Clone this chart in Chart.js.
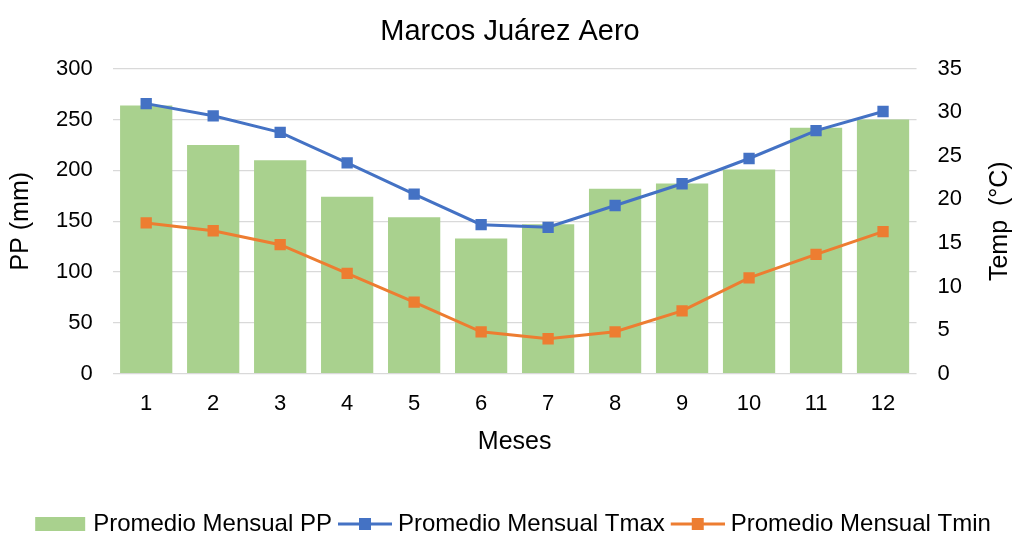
<!DOCTYPE html>
<html>
<head>
<meta charset="utf-8">
<script src="https://cdn.jsdelivr.net/npm/chart.js@4.4.1/dist/chart.umd.min.js"></script>
<style>
  html, body { margin: 0; padding: 0; background: #fff; }
  #wrap { width: 1014px; height: 536px; }
</style>
</head>
<body>
<div id="wrap"><canvas id="grafico"></canvas></div>
<script>
// datos
const meses = ['1', '2', '3', '4', '5', '6', '7', '8', '9', '10', '11', '12'];
const pp = [264, 225, 210, 174, 154, 133, 147, 182, 187, 201, 242, 250];
const tmax = [31.0, 29.6, 27.7, 24.2, 20.6, 17.1, 16.8, 19.3, 21.8, 24.7, 27.9, 30.1];
const tmin = [17.3, 16.4, 14.8, 11.5, 8.2, 4.8, 4.0, 4.8, 7.2, 11.0, 13.7, 16.3];

const verde = '#A9D18E';
const azul = '#4472C4';
const naranja = '#ED7D31';
const fuente = "'Liberation Sans', Arial, sans-serif";

// iconos de la leyenda: el lienzo es mas ancho que la caja para correr el icono a la derecha
function iconoLinea(color) {
    const c = document.createElement('canvas');
    c.width = 64; c.height = 14;
    const g = c.getContext('2d');
    g.strokeStyle = color;
    g.lineWidth = 3;
    g.beginPath(); g.moveTo(10, 7); g.lineTo(64, 7); g.stroke();
    g.fillStyle = color;
    g.fillRect(31, 1, 12, 12);
    return c;
}
function iconoBarra(color) {
    const c = document.createElement('canvas');
    c.width = 64; c.height = 14;
    const g = c.getContext('2d');
    g.fillStyle = color;
    g.fillRect(12, 0, 50, 14);
    return c;
}
const iconos = [iconoBarra(verde), iconoLinea(azul), iconoLinea(naranja)];

// titulo del eje derecho, leido de abajo hacia arriba
const tituloDerecho = {
    id: 'tituloDerecho',
    afterDraw(chart) {
        const s = chart.scales.y1;
        const ctx = chart.ctx;
        ctx.save();
        ctx.translate(s.right - 14, (chart.chartArea.top + chart.chartArea.bottom) / 2);
        ctx.rotate(-Math.PI / 2);
        ctx.font = '25px ' + fuente;
        ctx.fillStyle = '#000';
        ctx.textAlign = 'center';
        ctx.textBaseline = 'middle';
        ctx.fillText('Temp  (°C)', 0, 0);
        ctx.restore();
    }
};

const ctx = document.getElementById('grafico').getContext('2d');
new Chart(ctx, {
    type: 'bar',
    data: {
        labels: meses,
        datasets: [
            {
                type: 'line',
                label: 'Promedio Mensual Tmax',
                data: tmax,
                yAxisID: 'y1',
                borderColor: azul,
                backgroundColor: azul,
                borderWidth: 3,
                pointStyle: 'rect',
                pointRadius: 8,
                pointBorderWidth: 0,
                tension: 0,
                order: 1
            },
            {
                type: 'line',
                label: 'Promedio Mensual Tmin',
                data: tmin,
                yAxisID: 'y1',
                borderColor: naranja,
                backgroundColor: naranja,
                borderWidth: 3,
                pointStyle: 'rect',
                pointRadius: 8,
                pointBorderWidth: 0,
                tension: 0,
                order: 2
            },
            {
                label: 'Promedio Mensual PP',
                data: pp,
                yAxisID: 'y',
                backgroundColor: verde,
                categoryPercentage: 1.0,
                barPercentage: 0.78,
                order: 3
            }
        ]
    },
    options: {
        responsive: true,
        maintainAspectRatio: false,
        animation: false,
        layout: { padding: { left: 6, right: 0, top: 8, bottom: -10 } },
        plugins: {
            title: {
                display: true,
                text: 'Marcos Juárez Aero',
                color: '#000',
                font: { family: fuente, size: 29, weight: 'normal' },
                padding: { top: 7, bottom: 19 }
            },
            legend: {
                position: 'bottom',
                labels: {
                    color: '#000',
                    font: { family: fuente, size: 24 },
                    usePointStyle: true,
                    pointStyleWidth: 52,
                    boxHeight: 14,
                    padding: 2,
                    generateLabels(chart) {
                        // orden: PP, Tmax, Tmin
                        return [2, 0, 1].map((i, k) => ({
                            text: chart.data.datasets[i].label,
                            pointStyle: iconos[k],
                            fillStyle: 'transparent',
                            strokeStyle: 'transparent',
                            lineWidth: 0,
                            datasetIndex: i,
                            hidden: false
                        }));
                    }
                }
            },
            tooltip: { enabled: false }
        },
        scales: {
            x: {
                grid: { display: false, drawTicks: false },
                border: { display: false },
                ticks: { color: '#000', font: { family: fuente, size: 22 }, padding: 17 },
                title: {
                    display: true,
                    text: 'Meses',
                    color: '#000',
                    font: { family: fuente, size: 25, lineHeight: 0.6 },
                    padding: { top: 1, bottom: 60 }
                }
            },
            y: {
                position: 'left',
                min: 0,
                max: 300,
                ticks: { stepSize: 50, color: '#000', font: { family: fuente, size: 22 }, padding: 20 },
                grid: { color: '#D9D9D9', lineWidth: 1.3, drawTicks: false },
                border: { display: false },
                title: {
                    display: true,
                    text: 'PP (mm)',
                    color: '#000',
                    font: { family: fuente, size: 25 },
                    padding: { top: 0, bottom: 0 }
                }
            },
            y1: {
                position: 'right',
                min: 0,
                max: 35,
                ticks: { stepSize: 5, color: '#000', font: { family: fuente, size: 22 }, padding: 21 },
                grid: { display: false, drawTicks: false },
                border: { display: false },
                title: {
                    display: true,
                    text: 'Temp  (°C)',
                    color: 'rgba(0,0,0,0)',
                    font: { family: fuente, size: 25 },
                    padding: { top: 0, bottom: 1 }
                }
            }
        }
    },
    plugins: [tituloDerecho]
});
</script>
</body>
</html>
